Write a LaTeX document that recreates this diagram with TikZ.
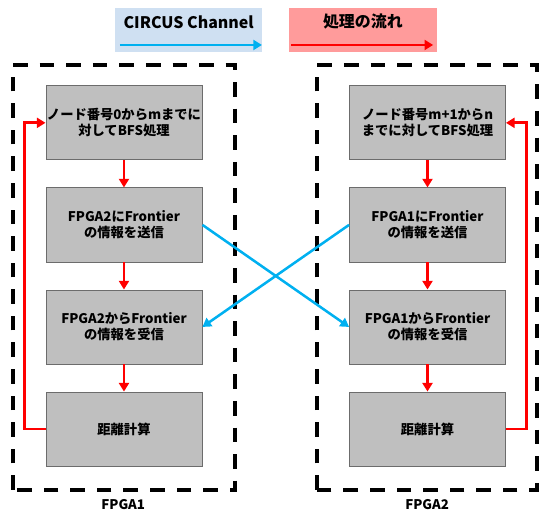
\documentclass[tikz,border=0pt]{standalone}
\usepackage{fontspec}
\setmainfont{Noto Sans CJK JP}
\usetikzlibrary{arrows.meta}

\definecolor{chblue}{HTML}{00B0F0}
\definecolor{legblue}{HTML}{CFE0F2}
\definecolor{legred}{HTML}{FF9B9B}
\definecolor{boxgray}{HTML}{BFBFBF}

\tikzset{
	proc/.style={draw=gray!85!black, line width=0.6pt, fill=boxgray, minimum width=4.13cm, minimum height=1.96cm, inner sep=0pt, align=center, font=\bfseries\fontsize{10}{12}\selectfont},
	flow/.style={draw=red, line width=2.1pt, -{Triangle[length=6.5pt,width=7.5pt]}},
	chan/.style={draw=chblue, line width=1.9pt, -{Triangle[length=6.5pt,width=7.5pt]}},
	fpga/.style={dash pattern=on 11pt off 9pt, line width=2.6pt}
}

\begin{document}
\begin{tikzpicture}
	\useasboundingbox (0,0) rectangle (14.26,13.52);
	
	% legend
	\fill[legblue] (3.04,12.14) rectangle (6.93,13.31);
	\fill[legred] (7.65,12.14) rectangle (11.56,13.31);
	\node[font=\bfseries\fontsize{12}{14}\selectfont] (chtext) at (4.99,12.94) {CIRCUS Channel};
	\node[font=\bfseries\fontsize{12}{14}\selectfont] (fltext) at (9.60,12.94) {処理の流れ};
	\coordinate (chL) at (3.17,12.33);
	\coordinate (chR) at (6.93,12.33);
	\coordinate (flL) at (7.70,12.33);
	\coordinate (flR) at (11.46,12.33);
	\draw[chan] (chL) -- (chR);
	\draw[flow] (flL) -- (flR);
	
	% FPGA frames
	\draw[fpga] (0.34,0.56) rectangle (6.22,11.80);
	\draw[fpga] (8.39,0.56) rectangle (14.21,11.80);
	\node[font=\bfseries\fontsize{10}{12}\selectfont] (lab1) at (3.26,0.17) {FPGA1};
	\node[font=\bfseries\fontsize{10}{12}\selectfont] (lab2) at (11.30,0.17) {FPGA2};
	
	% FPGA1
	\node[proc] (a1) at (3.28,10.27) {ノード番号0からmまでに\\対してBFS処理};
	\node[proc] (a2) at (3.28,7.57) {FPGA2にFrontier\\の情報を送信};
	\node[proc] (a3) at (3.28,4.87) {FPGA2からFrontier\\の情報を受信};
	\node[proc] (a4) at (3.28,2.17) {距離計算};
	
	% FPGA2
	\node[proc] (b1) at (11.31,10.27) {ノード番号m+1からn\\までに対してBFS処理};
	\node[proc] (b2) at (11.31,7.57) {FPGA1にFrontier\\の情報を送信};
	\node[proc] (b3) at (11.31,4.87) {FPGA1からFrontier\\の情報を受信};
	\node[proc] (b4) at (11.31,2.17) {距離計算};
	
	% processing order
	\draw[flow] (a1) -- (a2);
	\draw[flow] (a2) -- (a3);
	\draw[flow] (a3) -- (a4);
	\draw[flow] (a4.west) -- ++(-0.56,0) |- (a1.west);
	\draw[flow] (b1) -- (b2);
	\draw[flow] (b2) -- (b3);
	\draw[flow] (b3) -- (b4);
	\draw[flow] (b4.east) -- ++(0.55,0) |- (b1.east);
	
	% CIRCUS transfers
	\draw[chan] (a2.east) -- (b3.west);
	\draw[chan] (b2.west) -- (a3.east);
\end{tikzpicture}
\end{document}
